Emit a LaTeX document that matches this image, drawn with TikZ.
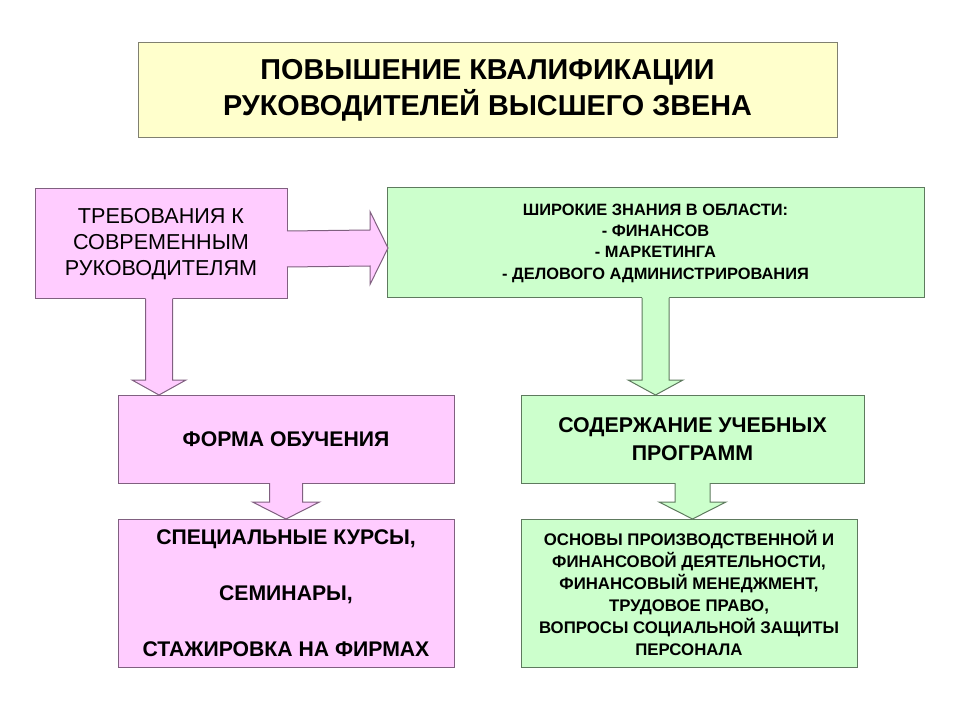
\documentclass[tikz,border=0pt]{standalone}
\usepackage{fontspec}
\setmainfont{Liberation Sans}
\usetikzlibrary{calc}
\definecolor{pinkfill}{HTML}{FFCCFF}
\definecolor{pinkline}{HTML}{806080}
\definecolor{greenfill}{HTML}{CCFFCC}
\definecolor{greenline}{HTML}{5E7A5E}
\definecolor{yellowfill}{HTML}{FFFFCC}
\definecolor{yellowline}{HTML}{808070}
\newcommand{\downblock}[7]{% #1 start, #2 tip, #3 shaft half, #4 head half, #5 head length, #6 fill, #7 line
  \fill[#6] ($(#1)+(-#3,-1.5)$) -- ($(#2)+(-#3,-#5)$) -- ($(#2)+(-#4,-#5)$) -- (#2) -- ($(#2)+(#4,-#5)$) -- ($(#2)+(#3,-#5)$) -- ($(#1)+(#3,-1.5)$) -- cycle;
  \draw[#7,line width=0.75pt,line join=miter] ($(#1)+(-#3,0)$) -- ($(#2)+(-#3,-#5)$) -- ($(#2)+(-#4,-#5)$) -- (#2) -- ($(#2)+(#4,-#5)$) -- ($(#2)+(#3,-#5)$) -- ($(#1)+(#3,0)$);
}
\newcommand{\rightblock}[7]{%
  \fill[#6] ($(#1)+(-1.5,-#3)$) -- ($(#2)+(-#5,-#3)$) -- ($(#2)+(-#5,-#4)$) -- (#2) -- ($(#2)+(-#5,#4)$) -- ($(#2)+(-#5,#3)$) -- ($(#1)+(-1.5,#3)$) -- cycle;
  \draw[#7,line width=0.75pt,line join=miter] ($(#1)+(0,-#3)$) -- ($(#2)+(-#5,-#3)$) -- ($(#2)+(-#5,-#4)$) -- (#2) -- ($(#2)+(-#5,#4)$) -- ($(#2)+(-#5,#3)$) -- ($(#1)+(0,#3)$);
}
\tikzset{
  box/.style={rectangle,inner sep=0pt,outer sep=0pt,line width=0.75pt,align=center,text=black},
  pinkbox/.style={box,fill=pinkfill,draw=pinkline},
  greenbox/.style={box,fill=greenfill,draw=greenline},
  titlebox/.style={box,fill=yellowfill,draw=yellowline},
}
\begin{document}
\begin{tikzpicture}[x=0.75pt,y=-0.75pt]
\useasboundingbox[fill=white] (0,0) rectangle (960,720);
\node[titlebox,minimum width=524.25pt,minimum height=71.25pt,
  font=\fontsize{21.6}{27}\selectfont\bfseries] (T) at (487.5,90.5)
  {ПОВЫШЕНИЕ КВАЛИФИКАЦИИ\\РУКОВОДИТЕЛЕЙ ВЫСШЕГО ЗВЕНА};
\node[pinkbox,minimum width=189pt,minimum height=82.5pt,
  font=\fontsize{16.2}{19.5}\selectfont] (A) at (161,244)
  {ТРЕБОВАНИЯ К\\СОВРЕМЕННЫМ\\РУКОВОДИТЕЛЯМ};
\node[greenbox,minimum width=402.75pt,minimum height=82.5pt,
  font=\fontsize{12.3}{16}\selectfont\bfseries] (B) at (655.5,243)
  {ШИРОКИЕ ЗНАНИЯ В ОБЛАСТИ:\\- ФИНАНСОВ\\- МАРКЕТИНГА\\- ДЕЛОВОГО АДМИНИСТРИРОВАНИЯ};
\node[pinkbox,minimum width=252pt,minimum height=66pt,
  font=\fontsize{15.9}{21}\selectfont\bfseries] (C) at (286,439)
  {ФОРМА ОБУЧЕНИЯ};
\node[greenbox,minimum width=257.25pt,minimum height=66pt,
  font=\fontsize{16}{21}\selectfont\bfseries] (D) at (692.5,439)
  {СОДЕРЖАНИЕ УЧЕБНЫХ\\ПРОГРАММ};
\node[pinkbox,minimum width=252pt,minimum height=111pt,
  font=\fontsize{15.9}{21}\selectfont\bfseries] (E) at (286,593)
  {СПЕЦИАЛЬНЫЕ КУРСЫ,\\[21pt]СЕМИНАРЫ,\\[21pt]СТАЖИРОВКА НА ФИРМАХ};
\node[greenbox,minimum width=252pt,minimum height=111pt,
  font=\fontsize{12.6}{16.5}\selectfont\bfseries] (F) at (689,593)
  {ОСНОВЫ ПРОИЗВОДСТВЕННОЙ И\\ФИНАНСОВОЙ ДЕЯТЕЛЬНОСТИ,\\ФИНАНСОВЫЙ МЕНЕДЖМЕНТ,\\ТРУДОВОЕ ПРАВО,\\ВОПРОСЫ СОЦИАЛЬНОЙ ЗАЩИТЫ\\ПЕРСОНАЛА};
% connector end points
\coordinate (abS) at ($(A.east)+(0,5)$);
\coordinate (abT) at ($(B.west)+(1,5)$);
\coordinate (acT) at ($(C.north west)+(41,0)$);
\coordinate (acS) at (acT |- A.south);
\coordinate (bdT) at (B.south |- D.north);
\coordinate (dfT) at (D.south |- F.north);
% block arrows
\rightblock{abS}{abT}{18}{36.5}{18}{pinkfill}{pinkline}
\downblock{acS}{acT}{13.5}{27}{15}{pinkfill}{pinkline}
\downblock{B.south}{bdT}{13.5}{27.5}{15}{greenfill}{greenline}
\downblock{C.south}{E.north}{16.5}{33.5}{17}{pinkfill}{pinkline}
\downblock{D.south}{dfT}{17.5}{33.5}{17}{greenfill}{greenline}
\end{tikzpicture}
\end{document}
